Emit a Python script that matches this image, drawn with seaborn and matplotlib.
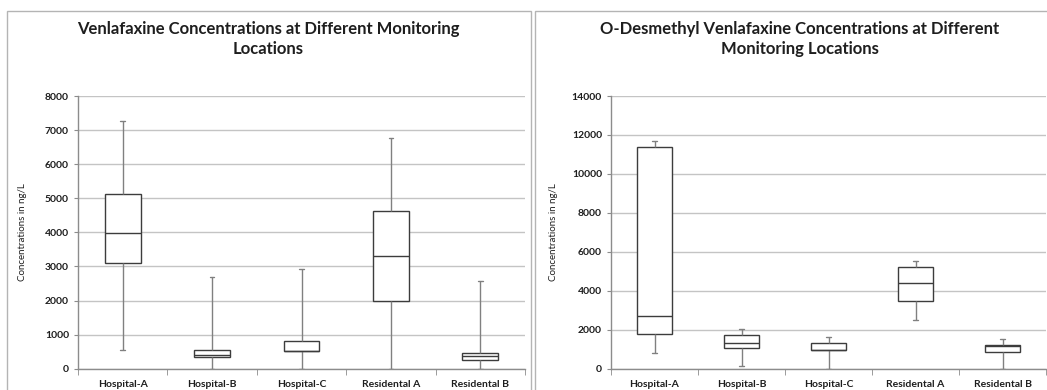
import numpy as np
import pandas as pd
import seaborn as sns
import matplotlib
matplotlib.use("Agg")
import matplotlib.pyplot as plt
from matplotlib.patches import Rectangle
from matplotlib.ticker import MultipleLocator, FixedLocator

# five-number summaries (ng/L)
locations = ["Hospital-A", "Hospital-B", "Hospital-C", "Residental A", "Residental B"]

venla_min = [550, 0, 0, 0, 0]
venla_q1 = [3110, 330, 520, 1980, 260]
venla_med = [3970, 390, 530, 3310, 370]
venla_q3 = [5130, 550, 800, 4640, 470]
venla_max = [7260, 2680, 2930, 6770, 2580]

odv_min = [790, 140, 0, 2500, 0]
odv_q1 = [1780, 1060, 950, 3460, 860]
odv_med = [2690, 1300, 960, 4380, 1150]
odv_q3 = [11400, 1750, 1330, 5240, 1200]
odv_max = [11700, 2050, 1640, 5540, 1510]

titles = ["Venlafaxine Concentrations at Different Monitoring\nLocations",
          "O-Desmethyl Venlafaxine Concentrations at Different\nMonitoring Locations"]
ylabel = "Concentrations in ng/L"


def long_frame(mins, q1s, meds, q3s, maxs):
    # five points per group -> linear percentiles hit the summary exactly
    rows = []
    for loc, a, b, c, d, e in zip(locations, mins, q1s, meds, q3s, maxs):
        for v in (a, b, c, d, e):
            rows.append({"location": loc, "value": v})
    return pd.DataFrame(rows)


sns.set_style("white")
plt.rcParams["font.family"] = ["Lato", "DejaVu Sans"]

W, H = 1047, 390
fig = plt.figure(figsize=(W / 100, H / 100), dpi=100)

# panel frames
fig.patches.append(Rectangle((7 / W, -0.1), (531 - 7) / W, (H - 11) / H + 0.1,
                             transform=fig.transFigure, fill=False,
                             edgecolor="#b4b4b4", lw=1))
fig.patches.append(Rectangle((535 / W, -0.1), 0.6, (H - 11) / H + 0.1,
                             transform=fig.transFigure, fill=False,
                             edgecolor="#b4b4b4", lw=1))

panels = [
    dict(df=long_frame(venla_min, venla_q1, venla_med, venla_q3, venla_max),
         rect=[78 / W, 21.3 / H, (525 - 78) / W, 272.7 / H],
         ymax=8000, step=1000, title_x=268, label_x=23),
    dict(df=long_frame(odv_min, odv_q1, odv_med, odv_q3, odv_max),
         rect=[611 / W, 21.3 / H, (1046 - 611) / W, 272.7 / H],
         ymax=14000, step=2000, title_x=800, label_x=553),
]

text_col = "#1e1e1e"
for p, title in zip(panels, titles):
    ax = fig.add_axes(p["rect"])
    sns.boxplot(data=p["df"], x="location", y="value", ax=ax, whis=(0, 100),
                width=0.4, color="white", saturation=1, linecolor="#3c3c3c",
                linewidth=1, fliersize=0,
                whiskerprops={"color": "#808080"},
                capprops={"color": "#808080"})
    # shrink the whisker caps
    for line in ax.lines:
        xd, yd = np.asarray(line.get_xdata(), float), np.asarray(line.get_ydata(), float)
        if len(xd) == 2 and yd[0] == yd[1] and 0 < xd[1] - xd[0] < 0.3:
            c = xd.mean()
            line.set_xdata([c - 0.025, c + 0.025])
    ax.set_xlim(-0.5, 4.5)
    ax.set_ylim(0, p["ymax"])
    ax.yaxis.set_major_locator(MultipleLocator(p["step"]))
    ax.grid(axis="y", color="#c4c4c4", lw=1)
    ax.set_axisbelow(True)
    ax.xaxis.set_minor_locator(FixedLocator(np.arange(-0.5, 5, 1)))
    ax.tick_params(axis="x", which="major", length=0, pad=8, labelsize=7.5,
                   colors=text_col)
    ax.tick_params(axis="x", which="minor", length=4, direction="out",
                   color="#8c8c8c", bottom=True)
    ax.tick_params(axis="y", length=3, direction="out", color="#8c8c8c",
                   labelsize=7.5, colors=text_col, left=True)
    for lab in ax.get_xticklabels() + ax.get_yticklabels():
        lab.set_fontweight("bold")
    ax.set_xlabel("")
    ax.set_ylabel("")
    for side in ("top", "right"):
        ax.spines[side].set_visible(False)
    for side in ("left", "bottom"):
        ax.spines[side].set_color("#8c8c8c")
        ax.spines[side].set_linewidth(1)
    fig.text(p["title_x"] / W, 1 - 39 / H, title, ha="center", va="center",
             fontsize=12, fontweight="bold", color=text_col, linespacing=1.35)
    fig.text(p["label_x"] / W, 1 - 232 / H, ylabel, ha="center", va="center",
             rotation=90, fontsize=7, color=text_col)

fig.savefig("out.png", dpi=100)
